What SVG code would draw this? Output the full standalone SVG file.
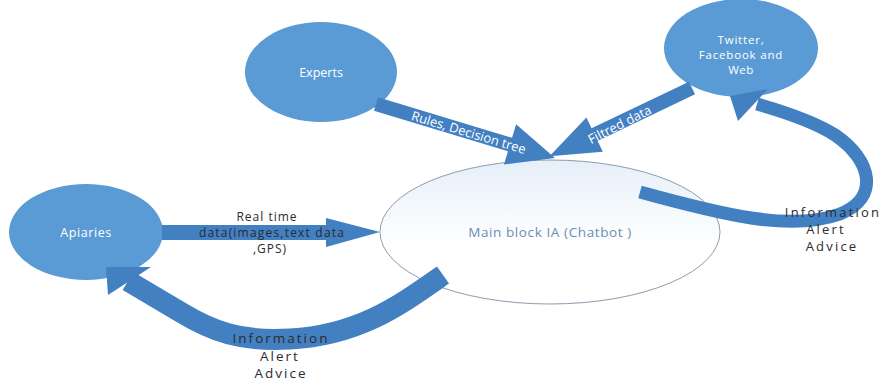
<svg xmlns="http://www.w3.org/2000/svg" width="893" height="385" viewBox="0 0 893 385">
<defs>
<style>
.node{fill:#5b9bd5;}
.arrow{fill:#4280c2;}
.band{fill:none;stroke:#4280c2;stroke-linecap:butt;}
.wt{font-family:"Open Sans","Liberation Sans",sans-serif;fill:#ffffff;text-anchor:middle;}
.dk{font-family:"Open Sans","Liberation Sans",sans-serif;fill:#2b2b2b;text-anchor:middle;}
</style>
<linearGradient id="mainFill" x1="0" y1="0" x2="0" y2="1">
<stop offset="0" stop-color="#e6eff9"/>
<stop offset="0.6" stop-color="#ffffff"/>
<stop offset="1" stop-color="#ffffff"/>
</linearGradient>
</defs>
<rect width="893" height="385" fill="#ffffff"/>

<g id="main">
<ellipse cx="550" cy="232" rx="170" ry="72" fill="url(#mainFill)" stroke="#8d9cae" stroke-width="1"/>
<text x="550" y="237" font-family="Open Sans, Liberation Sans, sans-serif" font-size="13.5" letter-spacing="0.6" fill="#6b8db5" text-anchor="middle">Main block IA (Chatbot )</text>
</g>

<g id="experts">
<ellipse class="node" cx="321" cy="72" rx="76" ry="50"/>
<text class="wt" x="321" y="77" font-size="12.5">Experts</text>
</g>

<g id="social">
<ellipse class="node" cx="741" cy="48" rx="77" ry="49"/>
<text class="wt" x="741" y="44" font-size="11.5" letter-spacing="0.8">Twitter,</text>
<text class="wt" x="741" y="59" font-size="11.5" letter-spacing="0.8">Facebook and</text>
<text class="wt" x="741" y="74" font-size="11.5" letter-spacing="0.5">Web</text>
</g>

<g id="apiaries">
<ellipse class="node" cx="86" cy="232" rx="77" ry="48"/>
<text class="wt" x="86" y="237" font-size="12.5" letter-spacing="0.6">Apiaries</text>
</g>

<g id="connectors">
<!-- Experts -> main -->
<g transform="translate(376,104) rotate(16.8)">
<polygon class="arrow" points="0,-7 140,-7 140,-21 187,0 140,21 140,7 0,7"/>
<text class="wt" x="97" y="5" font-size="13">Rules, Decision tree</text>
</g>
<!-- Social -> main -->
<g transform="translate(692,88) rotate(154.4)">
<polygon class="arrow" points="0,-7 108,-7 108,-19 158,0 108,19 108,7 0,7"/>
</g>
<text class="wt" x="620" y="129" font-size="13" transform="rotate(-27 620 125)">Filtred data</text>
<!-- Apiaries -> main -->
<polygon class="arrow" points="162,225 326,225 326,218 380,232 326,247 326,240 162,240"/>
<text class="dk" x="267" y="221" font-size="12" letter-spacing="1">Real time</text>
<text class="dk" x="272" y="237" font-size="12" letter-spacing="1.2">data(images,text data</text>
<text class="dk" x="270" y="253" font-size="12" letter-spacing="1">,GPS)</text>
<!-- main -> social (curved) -->
<path class="band" stroke-width="13" d="M640,192 C720,214 790,232 840,214 C880,198 872,160 835,135 C815,122 785,112 757,104"/>
<polygon class="arrow" points="730,96 768,89 738,121"/>
<text class="dk" x="833" y="217" font-size="13" letter-spacing="2.2">Information</text>
<text class="dk" x="826" y="234" font-size="13" letter-spacing="2.2">Alert</text>
<text class="dk" x="832" y="251" font-size="13" letter-spacing="2.2">Advice</text>
<!-- main -> apiaries (curved) -->
<path class="band" stroke-width="21" d="M443,275 C400,305 360,335 290,339 C240,342 212,331 182,313 L128,281"/>
<polygon class="arrow" points="106,267 151,267 108,295"/>
<text class="dk" x="281" y="343" font-size="13.5" letter-spacing="2">Information</text>
<text class="dk" x="280" y="360.5" font-size="13.5" letter-spacing="2">Alert</text>
<text class="dk" x="281" y="378" font-size="13.5" letter-spacing="2">Advice</text>
</g>
</svg>
